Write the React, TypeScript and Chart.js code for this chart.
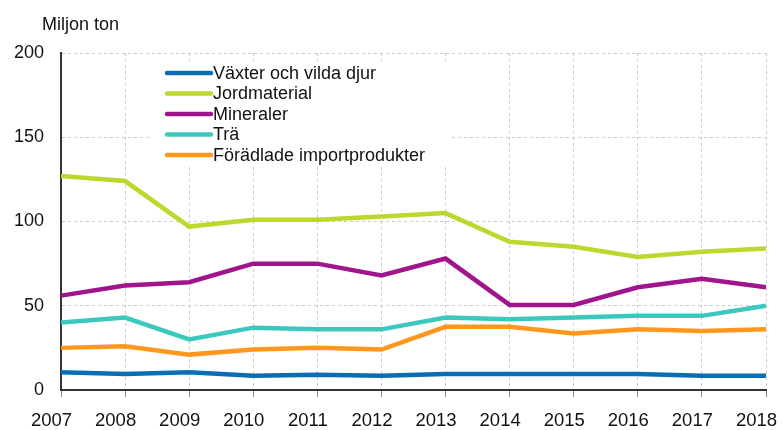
import React, { useEffect, useRef } from "react";
import { Chart, registerables } from "chart.js";

Chart.register(...registerables);

const years = ["2007", "2008", "2009", "2010", "2011", "2012", "2013", "2014", "2015", "2016", "2017", "2018"];
const vaxter = [10.5, 9.5, 10.5, 8.5, 9, 8.5, 9.5, 9.5, 9.5, 9.5, 8.5, 8.5];
const jordmaterial = [127, 124, 97, 101, 101, 103, 105, 88, 85, 79, 82, 84];
const mineraler = [56, 62, 64, 75, 75, 68, 78, 50.5, 50.5, 61, 66, 61];
const tra = [40, 43, 30, 37, 36, 36, 43, 42, 43, 44, 44, 50];
const foradlade = [25, 26, 21, 24, 25, 24, 37.5, 37.5, 33.5, 36, 35, 36];
const yTitle = "Miljon ton";

const seriesNames = ["Växter och vilda djur", "Jordmaterial", "Mineraler", "Trä", "Förädlade importprodukter"];
const seriesColors = ["#0a6eb4", "#bed72d", "#a0158c", "#3cc8be", "#ff961e"];
const seriesData = [vaxter, jordmaterial, mineraler, tra, foradlade];

const FONT = "Arial, 'Liberation Sans', sans-serif";
const TEXT = "#111111";

const overlayPlugin = {
  id: "overlay",
  afterDraw(chart: any) {
    const ctx = chart.ctx;
    ctx.save();
    // y-axis title
    ctx.fillStyle = TEXT;
    ctx.font = `18px ${FONT}`;
    ctx.textBaseline = "alphabetic";
    ctx.textAlign = "left";
    ctx.fillText(yTitle, 42, 30);
    // legend
    const area = chart.chartArea;
    const bx = area.left + 90;
    const by = area.top + 9;
    ctx.fillStyle = "#ffffff";
    ctx.fillRect(bx, by, 298, 104);
    const lx = area.left + 106;
    const rowY0 = area.top + 20;
    ctx.font = `18px ${FONT}`;
    ctx.textBaseline = "middle";
    chart.data.datasets.forEach((ds: any, i: number) => {
      const y = rowY0 + i * 20.5;
      ctx.strokeStyle = ds.borderColor;
      ctx.lineWidth = 4.5;
      ctx.lineCap = "round";
      ctx.beginPath();
      ctx.moveTo(lx, y);
      ctx.lineTo(lx + 44, y);
      ctx.stroke();
      ctx.fillStyle = TEXT;
      ctx.fillText(ds.label, lx + 46, y + 1);
    });
    ctx.restore();
  },
};

export default function App() {
  const ref = useRef<HTMLCanvasElement | null>(null);
  useEffect(() => {
    document.body.style.margin = "0";
    const chart = new Chart(ref.current as HTMLCanvasElement, {
      type: "line",
      data: {
        labels: years,
        datasets: seriesData.map((d, i) => ({
          label: seriesNames[i],
          data: d,
          borderColor: seriesColors[i],
          backgroundColor: seriesColors[i],
          borderWidth: 4.5,
          pointRadius: 0,
          tension: 0,
          fill: false,
        })),
      },
      options: {
        animation: false,
        responsive: false,
        maintainAspectRatio: false,
        layout: { padding: { left: 0, right: 17, top: 53, bottom: 0 } },
        plugins: { legend: { display: false }, title: { display: false }, tooltip: { enabled: false } },
        scales: {
          x: {
            grid: { color: "#cccccc", lineWidth: 1, drawTicks: true, tickLength: 7, tickColor: "#888888" },
            border: { display: true, color: "#333333", width: 2, dash: [3, 3] },
            ticks: {
              color: TEXT,
              font: { size: 18.5, family: FONT },
              padding: 13,
              labelOffset: -9.5,
              maxRotation: 0,
              autoSkip: false,
            },
            afterFit(scale: any) {
              scale.height = 40;
              scale.paddingLeft = 0;
              scale.paddingRight = 0;
            },
          },
          y: {
            min: 0,
            max: 200,
            grid: { color: "#cccccc", lineWidth: 1, drawTicks: false },
            border: { display: true, color: "#333333", width: 2, dash: [3, 3] },
            ticks: { stepSize: 50, color: TEXT, font: { size: 18, family: FONT }, padding: 17 },
            afterFit(scale: any) {
              scale.width = 61;
            },
          },
        },
      },
      plugins: [overlayPlugin],
    } as any);
    return () => chart.destroy();
  }, []);
  return <canvas ref={ref} width={783} height={430} style={{ display: "block" }} />;
}
